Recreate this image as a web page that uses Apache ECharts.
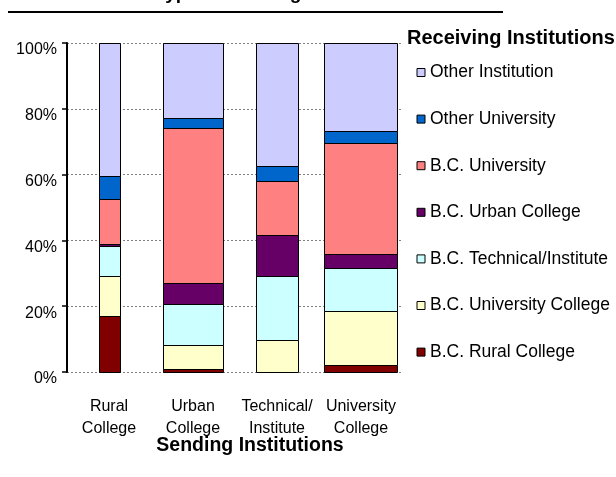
<!DOCTYPE html>
<html>
<head>
<meta charset="utf-8">
<style>
html,body{margin:0;padding:0;background:#fff}
#main{width:616px;height:477px}
</style>
<script src="https://cdn.jsdelivr.net/npm/echarts@6/dist/echarts.min.js"></script>
</head>
<body>
<div id="main"></div>
<script>
// sending institutions (x axis)
var sending = ['Rural\nCollege', 'Urban\nCollege', 'Technical/\nInstitute', 'University\nCollege'];
// share (%) of students going to each receiving institution, per sending institution
var ruralCollege     = [17.1,  0.9,  0.0,  2.2];
var univCollege      = [12.1,  7.4,  9.7, 16.2];
var technical        = [ 9.1, 12.5, 19.4, 13.2];
var urbanCollege     = [ 0.7,  6.3, 12.6,  4.4];
var bcUniversity     = [13.5, 47.1, 16.5, 33.7];
var otherUniversity  = [ 7.2,  3.1,  4.3,  3.5];
var otherInstitution = [40.3, 22.7, 37.5, 26.8];
var yTicks = [0, 20, 40, 60, 80, 100];

// layout only: bar width as share of the category band
var barFrac = [0.246, 0.714, 0.496, 0.873];

var layers = [
	{name: 'B.C. Rural College',         color: '#800000', vals: ruralCollege},
	{name: 'B.C. University College',    color: '#FFFFCC', vals: univCollege},
	{name: 'B.C. Technical/Institute',   color: '#CCFFFF', vals: technical},
	{name: 'B.C. Urban College',         color: '#660066', vals: urbanCollege},
	{name: 'B.C. University',            color: '#FF8080', vals: bcUniversity},
	{name: 'Other University',           color: '#0066CC', vals: otherUniversity},
	{name: 'Other Institution',          color: '#CCCCFF', vals: otherInstitution}
];

function renderSeg(params, api) {
	var i = api.value(0);
	if (api.value(2) - api.value(1) <= 0) return null;
	var p0 = api.coord([i, api.value(1)]);
	var p1 = api.coord([i, api.value(2)]);
	var w = api.size([1, 0])[0] * barFrac[i];
	return {
		type: 'rect',
		shape: {x: Math.round(p0[0] - w / 2) + 0.5, y: Math.round(p1[1]) + 0.5, width: Math.round(w), height: Math.round(p0[1]) - Math.round(p1[1])},
		style: api.style({stroke: '#000', lineWidth: 1})
	};
}

var base = [0, 0, 0, 0];
var series = layers.map(function (l) {
	var data = l.vals.map(function (v, i) {
		var d = [i, base[i], base[i] + v];
		base[i] += v;
		return d;
	});
	return {
		name: l.name,
		type: 'custom',
		renderItem: renderSeg,
		itemStyle: {color: l.color, borderColor: '#000', borderWidth: 1},
		encode: {x: 0, y: 2},
		data: data
	};
});

var font = 'Liberation Sans, Arial, sans-serif';
var myChart = echarts.init(document.getElementById('main'));
var option = {
	animation: false,
	textStyle: {fontFamily: font},
	grid: {left: 67, top: 43, width: 336, height: 329},
	graphic: [
		{type: 'line', shape: {x1: 8, y1: 12, x2: 503, y2: 12}, style: {stroke: '#000', lineWidth: 2}},
		{type: 'text', x: 155, y: -6.5, style: {text: 'Type of Sending Institution', font: 'bold 19px ' + font, fill: '#000', textVerticalAlign: 'middle'}},
		{type: 'text', x: 407, y: 38.5, style: {text: 'Receiving Institutions', font: 'bold 20px ' + font, fill: '#000', textVerticalAlign: 'middle'}},
		{type: 'text', x: 250, y: 446, style: {text: 'Sending Institutions', font: 'bold 19.5px ' + font, fill: '#000', textAlign: 'center', textVerticalAlign: 'middle'}}
	],
	legend: {
		orient: 'vertical',
		left: 416.5,
		top: 63.5,
		padding: 0,
		icon: 'rect',
		itemWidth: 8,
		itemHeight: 8,
		itemGap: 28.6,
		itemStyle: {borderColor: '#000', borderWidth: 1},
		textStyle: {fontSize: 17.5, color: '#000', fontFamily: font},
		data: layers.map(function (l) { return l.name; }).reverse()
	},
	xAxis: {
		type: 'category',
		data: sending,
		axisLine: {show: false},
		axisTick: {show: false},
		axisLabel: {fontSize: 16, color: '#000', lineHeight: 22.6, margin: 23, interval: 0}
	},
	yAxis: {
		type: 'value',
		min: yTicks[0],
		max: yTicks[yTicks.length - 1],
		interval: yTicks[1] - yTicks[0],
		axisLine: {show: true, lineStyle: {color: '#000', width: 2}},
		axisTick: {show: true, length: 5, lineStyle: {color: '#000', width: 1.5}},
		axisLabel: {fontSize: 16, color: '#000', margin: 10, verticalAlign: 'top', lineHeight: 14, formatter: '{value}%'},
		splitLine: {show: true, lineStyle: {color: '#808080', width: 1, type: [2, 2]}}
	},
	series: series
};
myChart.setOption(option);
</script>
</body>
</html>
